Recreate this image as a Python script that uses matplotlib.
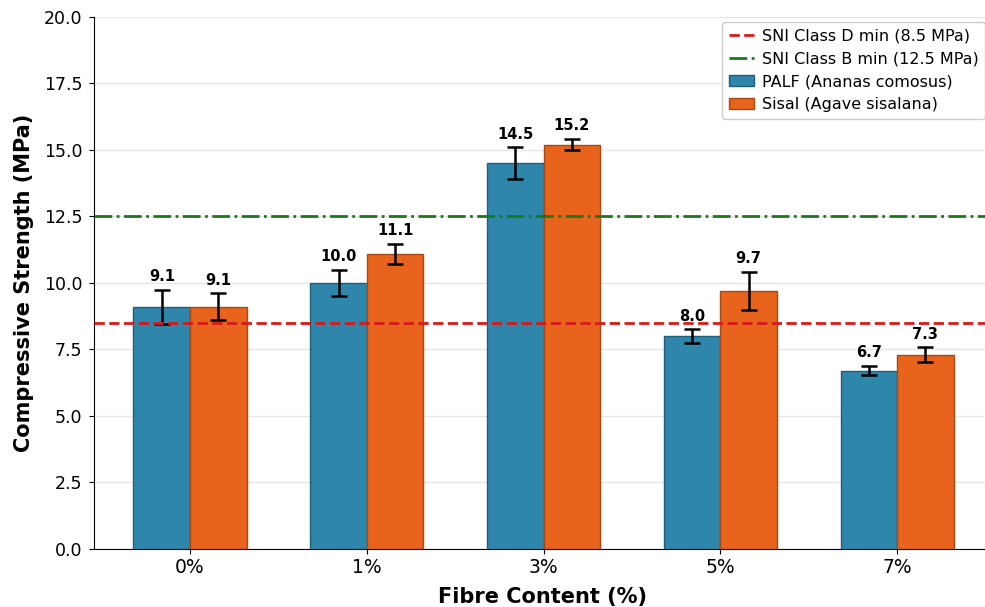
import matplotlib.pyplot as plt
import numpy as np

fibre_content = ['0%', '1%', '3%', '5%', '7%']
palf_mean = [9.1, 10.0, 14.5, 8.0, 6.7]
palf_err = [0.64, 0.5, 0.6, 0.25, 0.18]
sisal_mean = [9.1, 11.1, 15.2, 9.7, 7.3]
sisal_err = [0.5, 0.38, 0.22, 0.72, 0.28]
class_d_min = 8.5
class_b_min = 12.5

x = np.arange(len(fibre_content))
width = 0.32

fig = plt.figure(figsize=(9.85, 6.07), dpi=100)
ax = fig.add_axes([0.0955, 0.096, 0.9097, 0.876])

ax.axhline(class_d_min, color='#D7191C', linestyle='--', linewidth=2,
           label='SNI Class D min (8.5 MPa)', zorder=4)
ax.axhline(class_b_min, color='#1A7A1A', linestyle='-.', linewidth=2,
           label='SNI Class B min (12.5 MPa)', zorder=4)

palf_bars = ax.bar(x - width/2, palf_mean, width, yerr=palf_err,
                   color='#2E86AB', edgecolor='#1F5F7A', linewidth=1,
                   capsize=6, error_kw={'elinewidth': 1.8, 'capthick': 1.8},
                   label='PALF (Ananas comosus)', zorder=3)
sisal_bars = ax.bar(x + width/2, sisal_mean, width, yerr=sisal_err,
                    color='#E8641C', edgecolor='#A94812', linewidth=1,
                    capsize=6, error_kw={'elinewidth': 1.8, 'capthick': 1.8},
                    label='Sisal (Agave sisalana)', zorder=3)

# value labels above the error bars
for bars, means, errs in [(palf_bars, palf_mean, palf_err),
                          (sisal_bars, sisal_mean, sisal_err)]:
    for b, m, e in zip(bars, means, errs):
        ax.text(b.get_x() + b.get_width()/2, m + e + 0.2, f'{m:.1f}',
                ha='center', va='bottom', fontsize=10.5, fontweight='bold')

ax.set_xticks(x)
ax.set_xticklabels(fibre_content, fontsize=13.5)
ax.tick_params(axis='y', labelsize=12.5, pad=5)
ax.set_ylim(0, 20)
ax.set_yticks(np.arange(0, 20.1, 2.5))
ax.set_xlim(-0.543, 4.526)
ax.set_xlabel('Fibre Content (%)', fontsize=15, fontweight='bold', labelpad=7)
ax.set_ylabel('Compressive Strength (MPa)', fontsize=15, fontweight='bold',
              labelpad=7)
ax.grid(axis='y', color='#E6E6E6', linewidth=1, zorder=0)
ax.spines['top'].set_visible(False)
ax.spines['right'].set_visible(False)

ax.legend(loc='upper right', fontsize=11.5, framealpha=1,
          handlelength=1.6, handletextpad=0.5, borderaxespad=0.3)

fig.savefig('out.png', dpi=100)
